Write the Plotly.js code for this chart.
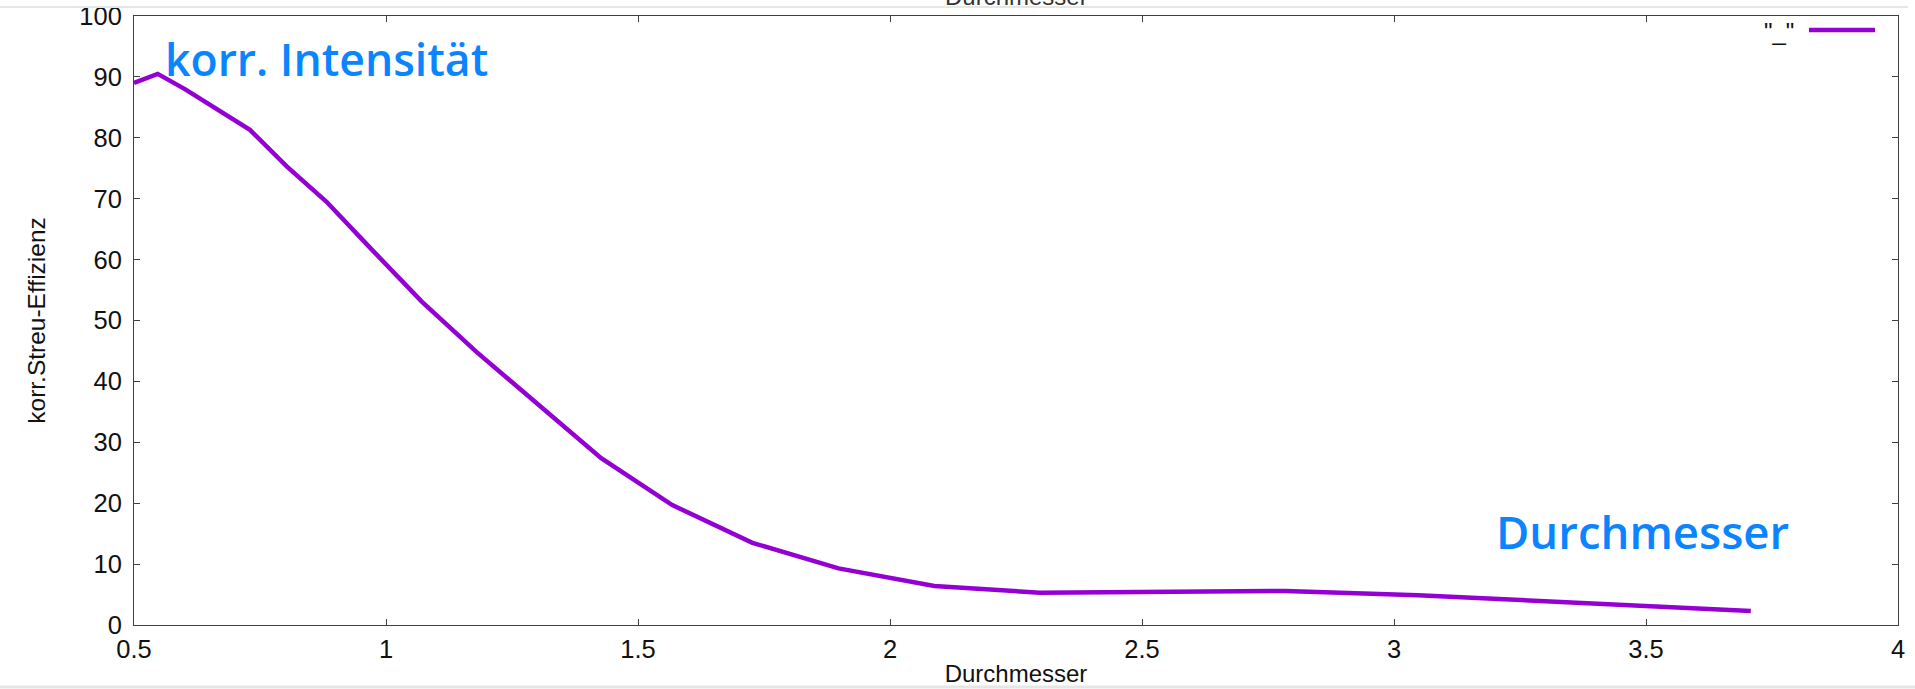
<!DOCTYPE html>
<html>
<head>
<meta charset="utf-8">
<script src="https://cdn.plot.ly/plotly-3.0.1.min.js"></script>
<style>
  html, body { margin: 0; padding: 0; background: #ffffff; }
  #chart { width: 1915px; height: 689px; }
</style>
</head>
<body>
<div id="chart"></div>
<script>
// Corrected scattering efficiency versus particle diameter
const durchmesser = [0.5, 0.547, 0.601, 0.663, 0.730, 0.803, 0.882, 0.970, 1.071, 1.180,
                     1.299, 1.427, 1.568, 1.727, 1.898, 2.088, 2.297, 2.527, 2.785, 3.048,
                     3.364, 3.708];
const streuEffizienz = [89.0, 90.5, 88.0, 84.7, 81.3, 75.3, 69.5, 61.8, 53.1, 44.8,
                        36.4, 27.4, 19.7, 13.5, 9.3, 6.4, 5.3, 5.4, 5.6, 4.9,
                        3.7, 2.3];
const seriesName = '"_"';
const xTitle = 'Durchmesser';
const yTitle = 'korr.Streu-Effizienz';
const labelTop = 'korr. Intensität';
const labelBottom = 'Durchmesser';

// page geometry
const W = 1915, H = 689;
const M = { l: 134, r: 17, t: 16, b: 64 };
const PW = W - M.l - M.r, PH = H - M.t - M.b;
const px = x => (x - M.l) / PW;          // page pixel -> paper x
const py = y => (H - M.b - y) / PH;      // page pixel -> paper y

const violet = '#9400d3';
const blue = '#0a84ff';
const axisColor = '#404040';
const textFont = 'Liberation Sans, Arial, sans-serif';
const labelFont = 'Open Sans, Noto Sans, sans-serif';

const trace = {
  x: durchmesser,
  y: streuEffizienz,
  type: 'scatter',
  mode: 'lines',
  name: seriesName,
  line: { color: violet, width: 4.5 },
  showlegend: false,
  cliponaxis: true
};

const axisCommon = {
  showgrid: false,
  zeroline: false,
  showline: true,
  linecolor: axisColor,
  linewidth: 1,
  mirror: 'ticks',
  ticks: 'inside',
  ticklen: 6,
  tickwidth: 1,
  tickcolor: axisColor,
  tickfont: { family: textFont, size: 25.5, color: '#111' }
};

const layout = {
  width: W,
  height: H,
  margin: M,
  paper_bgcolor: '#ffffff',
  plot_bgcolor: '#ffffff',
  xaxis: Object.assign({}, axisCommon, {
    range: [0.5, 4],
    dtick: 0.5,
    tick0: 0.5,
    ticklabelstandoff: 1,
    title: { text: xTitle, font: { family: textFont, size: 24, color: '#111' }, standoff: 3 }
  }),
  yaxis: Object.assign({}, axisCommon, {
    range: [0, 100],
    dtick: 10,
    ticklabelstandoff: 6,
    title: { text: yTitle, font: { family: textFont, size: 24.5, color: '#111' }, standoff: 26 }
  }),
  annotations: [
    // plot heading above the top edge; only its lower rim falls inside the page
    {
      text: xTitle, xref: 'paper', yref: 'paper',
      x: 0.5, xanchor: 'center', y: py(12), yanchor: 'bottom',
      showarrow: false,
      font: { family: textFont, size: 24, color: '#333' }
    },
    {
      text: labelTop, xref: 'paper', yref: 'paper',
      x: px(163), xanchor: 'left', y: py(58), yanchor: 'middle',
      showarrow: false,
      font: { family: labelFont, size: 44.5, color: blue, weight: 600 }
    },
    {
      text: labelBottom, xref: 'paper', yref: 'paper',
      x: px(1494), xanchor: 'left', y: py(531), yanchor: 'middle',
      showarrow: false,
      font: { family: labelFont, size: 45.5, color: blue, weight: 600 }
    },
    {
      text: seriesName, xref: 'paper', yref: 'paper',
      x: px(1762), xanchor: 'left', y: py(32), yanchor: 'middle',
      showarrow: false,
      font: { family: textFont, size: 24, color: '#111' }
    }
  ],
  shapes: [
    // key sample line
    { type: 'line', xref: 'paper', yref: 'paper',
      x0: px(1809), x1: px(1875), y0: py(30), y1: py(30),
      line: { color: violet, width: 4.5 } },
    // window edges
    { type: 'line', xref: 'paper', yref: 'paper',
      x0: px(0), x1: px(1908), y0: py(7), y1: py(7),
      line: { color: '#e6e6e6', width: 2 } },
    { type: 'line', xref: 'paper', yref: 'paper',
      x0: px(0), x1: px(1915), y0: py(687), y1: py(687),
      line: { color: '#e6e6e6', width: 3 } }
  ]
};

Plotly.newPlot('chart', [trace], layout, { displayModeBar: false, staticPlot: true });
</script>
</body>
</html>
